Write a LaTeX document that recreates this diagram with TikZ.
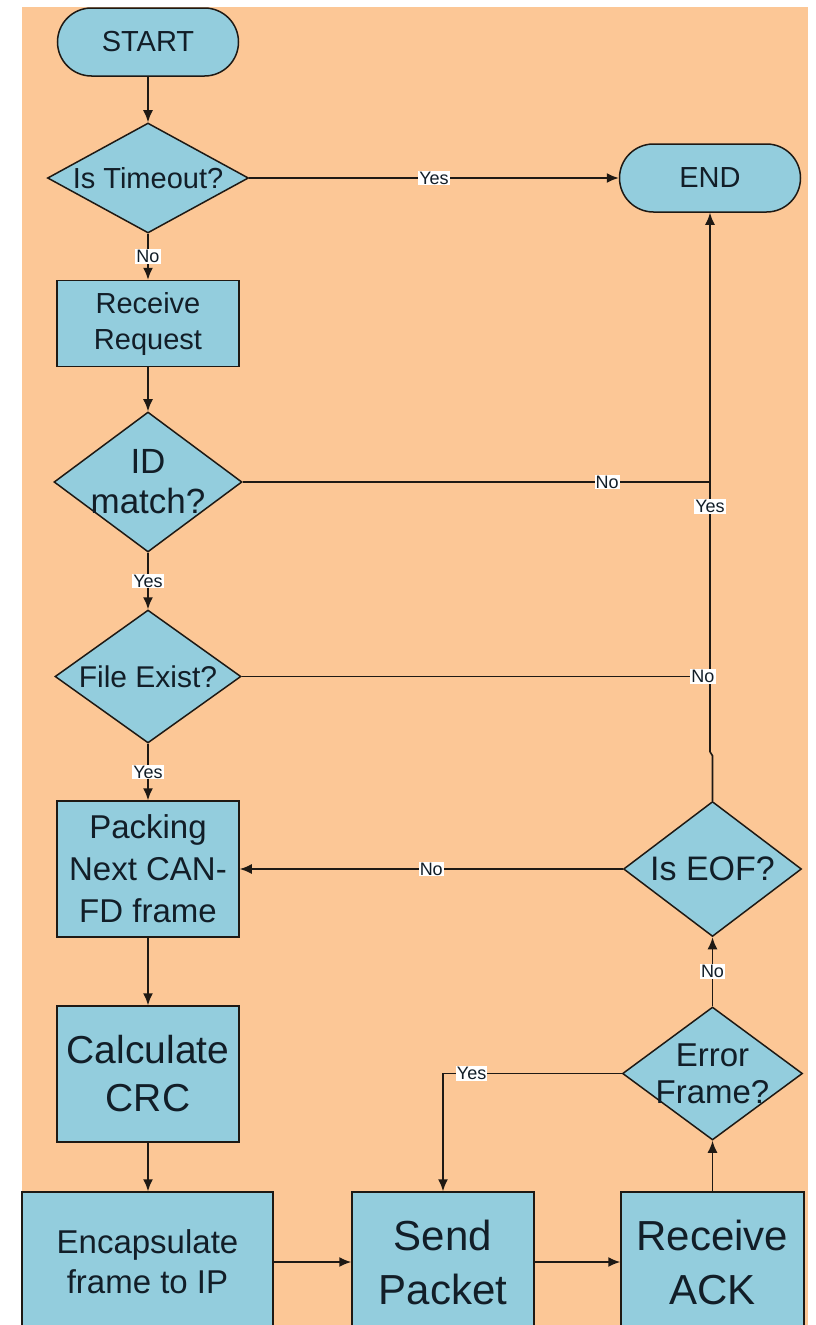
\documentclass[tikz,border=0pt]{standalone}
\usepackage{fontspec}
\setmainfont{Liberation Sans}
\usetikzlibrary{arrows.meta,shapes.geometric}
\definecolor{peach}{RGB}{252,199,150}
\definecolor{boxblue}{RGB}{147,205,221}
\definecolor{ink}{RGB}{18,30,40}
\definecolor{edgec}{RGB}{30,25,20}
\newcommand\fz[2]{\fontsize{#1}{#2}\selectfont}
\begin{document}
\begin{tikzpicture}[x=1pt,y=-1pt,
 base/.style={draw=edgec, line width=1.5pt, fill=boxblue, text=ink, align=center, inner sep=0pt},
 term/.style={base, rectangle, rounded corners=34pt, minimum width=181pt, minimum height=68pt, font=\fz{29}{34}},
 proc/.style={base, rectangle},
 dec/.style 2 args={base, diamond, label={[text=ink,align=center,font=#2]center:#1}},
 conn/.style={draw=edgec, line width=1.6pt},
 arr/.style={conn, -{Latex[length=12pt,width=10pt]}},
 lab/.style={fill=white, text=ink, inner sep=1.2pt, font=\fz{18}{20}}
]
\useasboundingbox (0,0) rectangle (815,1325);
\clip (0,0) rectangle (815,1325);
\fill[white] (0,0) rectangle (815,1325);
\fill[peach] (22,7) rectangle (808,1330);

% nodes
\node[term] (start) at (148,42) {START};
\node[dec={Is Timeout?}{\fz{29}{34}}, minimum width=201pt, minimum height=110pt] (tmo) at (148,178) {};
\node[term] (endn) at (710,178) {END};
\node[proc, minimum width=182pt, minimum height=86pt, font=\fz{29}{36}] (rreq) at (148,323.5) {Receive\\Request};
\node[dec={ID\\match?}{\fz{35}{40}}, minimum width=188pt, minimum height=140pt] (idm) at (148,482) {};
\node[dec={File Exist?}{\fz{30}{35}}, minimum width=186pt, minimum height=133pt] (fex) at (148,676.5) {};
\node[proc, minimum width=182pt, minimum height=136pt, font=\fz{33}{42}] (pack) at (148,869) {Packing\\Next CAN-\\FD frame};
\node[proc, minimum width=182pt, minimum height=136pt, font=\fz{39}{48}] (crc) at (148,1074) {Calculate\\CRC};
\node[proc, minimum width=251pt, minimum height=140pt, font=\fz{33}{40}] (enc) at (147.5,1262) {Encapsulate\\frame to IP};
\node[proc, minimum width=182pt, minimum height=140pt, font=\fz{42}{54}] (send) at (443,1262) {Send\\Packet};
\node[proc, minimum width=183pt, minimum height=140pt, font=\fz{42}{54}] (rack) at (712.5,1262) {Receive\\ACK};
\node[dec={Error\\Frame?}{\fz{33}{37}}, minimum width=180pt, minimum height=133pt] (errf) at (712.5,1073.5) {};
\node[dec={Is EOF?}{\fz{34}{40}}, minimum width=178pt, minimum height=135pt] (eof) at (712.5,869) {};

% connectors
\draw[conn] (eof.north) -- ++(0,-45) -- ++(-2.5,-4) coordinate (jog);
\draw[arr] (jog) -- node[lab,pos=0.455]{Yes} (jog |- endn.south);
\draw[arr] (start) -- (tmo);
\draw[arr] (tmo) -- node[lab]{No} (rreq);
\draw[arr] (tmo) -- node[lab]{Yes} (endn);
\draw[arr] (rreq) -- (idm);
\draw[arr] (idm) -- node[lab]{Yes} (fex);
\draw[arr] (fex) -- node[lab]{Yes} (pack);
\draw[conn] (idm.east) -- node[lab,pos=0.78]{No} (idm.east -| endn.south);
\draw[conn] (fex.east) -- node[lab,pos=0.985]{No} (fex.east -| endn.south);
\draw[arr] (pack) -- (crc);
\draw[arr] (crc.south) -- (crc.south |- enc.north);
\draw[arr] (enc) -- (send);
\draw[arr] (send) -- (rack);
\draw[arr] (rack) -- (errf);
\draw[arr] (errf) -- node[lab]{No} (eof);
\draw[arr] (errf.west) -| node[lab,pos=0.42]{Yes} (send.north);
\draw[arr] (eof.west) -- node[lab]{No} (pack.east);
\end{tikzpicture}
\end{document}
